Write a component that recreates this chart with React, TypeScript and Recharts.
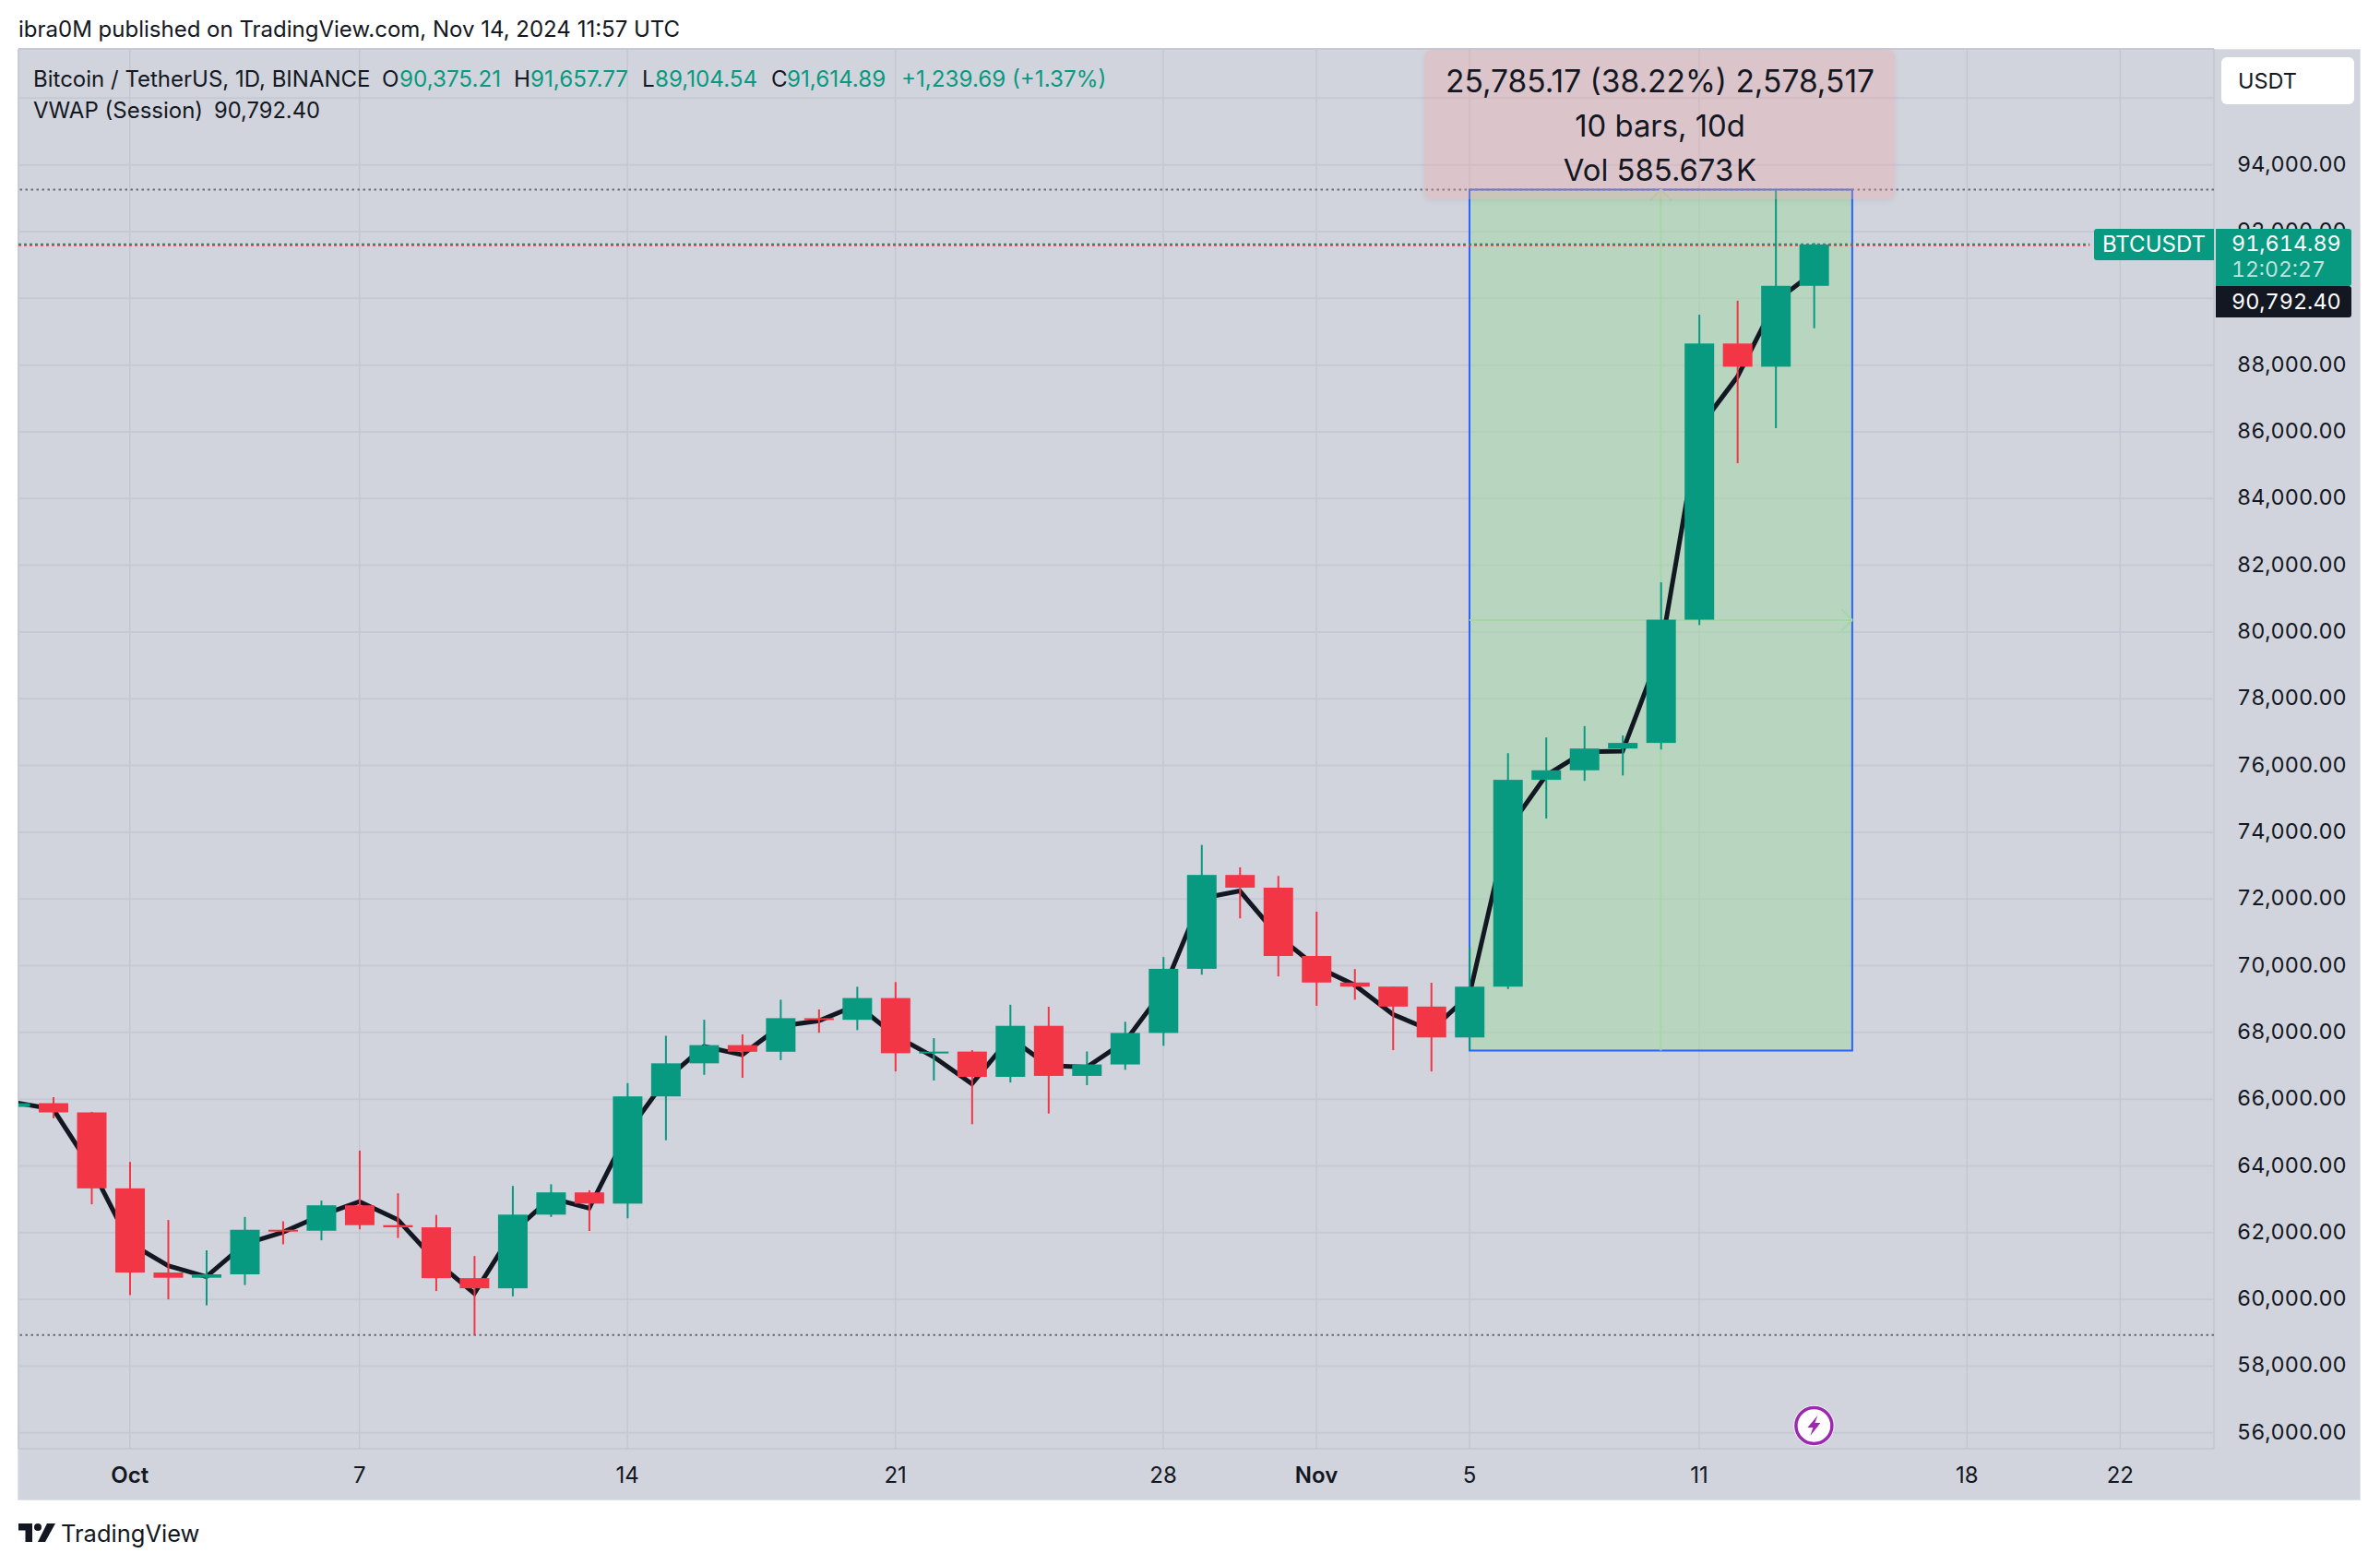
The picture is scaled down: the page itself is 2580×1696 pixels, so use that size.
import {
  Bar,
  CartesianGrid,
  ComposedChart,
  Line,
  ReferenceArea,
  ReferenceDot,
  ReferenceLine,
  XAxis,
  YAxis,
} from 'recharts';

const FONT = 'Inter, sans-serif';
const GREEN = '#089981';
const RED = '#F23645';
const INK = '#131722';

// days counted from Oct 1 2024
const days = [
  -3, -2, -1, 0, 1, 2, 3, 4, 5, 6, 7, 8, 9, 10, 11, 12, 13, 14, 15, 16, 17, 18, 19, 20, 21, 22, 23, 24,
  25, 26, 27, 28, 29, 30, 31, 32, 33, 34, 35, 36, 37, 38, 39, 40, 41, 42, 43, 44,
];
const opens = [
  65769, 65880, 65604, 63327, 60805, 60649, 60751, 62086, 62058, 62819, 62224, 62160, 60636, 60332, 62540,
  63206, 62870, 66083, 67074, 67620, 67421, 68428, 68378, 69031, 67377, 67426, 66668, 68198, 66698, 67041,
  67985, 69907, 72720, 72339, 70292, 69496, 69374, 68775, 67850, 69372, 75571, 75857, 76509, 76677, 80370,
  88647, 87952, 90375,
];
const highs = [
  66260, 66060, 65620, 64120, 62380, 61470, 62470, 62340, 62960, 64460, 63180, 62530, 61300, 63400, 63450,
  63270, 66480, 67900, 68380, 67940, 68980, 68690, 69370, 69510, 67830, 67470, 68830, 68770, 67430, 68320,
  70260, 73620, 72950, 72690, 71620, 69900, 69370, 69490, 70560, 76370, 76840, 77180, 76900, 81490, 89510,
  89930, 93257, 91658,
];
const lows = [
  65420, 65425, 62850, 60130, 60000, 59820, 60430, 61650, 61770, 62100, 61840, 60250, 58930, 60090, 62470,
  62050, 62430, 64770, 66730, 66640, 67170, 67990, 68070, 66830, 66560, 65250, 66500, 65570, 66420, 66880,
  67600, 69730, 71420, 69680, 68800, 68980, 67470, 66830, 67460, 69300, 74410, 75540, 75700, 76480, 80210,
  85060, 86110, 89105,
];
const closes = [
  65880, 65604, 63327, 60805, 60649, 60751, 62086, 62058, 62819, 62224, 62160, 60636, 60332, 62540, 63206,
  62870, 66083, 67074, 67620, 67421, 68428, 68378, 69031, 67377, 67426, 66668, 68198, 66698, 67041, 67985,
  69907, 72720, 72339, 70292, 69496, 69374, 68775, 67850, 69372, 75571, 75857, 76509, 76677, 80370, 88647,
  87952, 90375, 91615,
];
const vwap = [
  65900, 65700, 63930, 61685, 61010, 60680, 61660, 62015, 62520, 62930, 62390, 61140, 60180, 62010, 63040,
  62730, 65000, 66580, 67580, 67330, 68190, 68350, 68820, 67900, 67270, 66460, 67840, 67010, 66960, 67730,
  69260, 72020, 72240, 70890, 69970, 69420, 68540, 68060, 69130, 74080, 75700, 76410, 76430, 79450, 86120,
  87650, 89910, 90792,
];

const dayTicks = [0, 6, 13, 20, 27, 31, 35, 41, 48, 52];
const dayLabels = ['Oct', '7', '14', '21', '28', 'Nov', '5', '11', '18', '22'];
const priceTicks = [
  56000, 58000, 60000, 62000, 64000, 66000, 68000, 70000, 72000, 74000, 76000, 78000, 80000, 82000, 84000,
  86000, 88000, 90000, 92000, 94000, 96000,
];
// these labels are completely covered by the USDT button and the price tags
const coveredTicks = [90000, 96000];

const rows = days.map((day, i) => ({
  day,
  open: opens[i],
  high: highs[i],
  low: lows[i],
  close: closes[i],
  vwap: vwap[i],
}));

const Candle = (props: any) => {
  const { x, y, width, height, payload } = props;
  const pxPerPrice = height / (payload.high - payload.low);
  const toY = (price: number) => y + (payload.high - price) * pxPerPrice;
  const color = payload.close >= payload.open ? GREEN : RED;
  const top = toY(Math.max(payload.open, payload.close));
  const bottom = toY(Math.min(payload.open, payload.close));
  return (
    <g>
      <rect x={x + width / 2 - 1} y={y} width={2} height={height} fill={color} />
      <rect x={x} y={top} width={width} height={Math.max(bottom - top, 2)} fill={color} />
    </g>
  );
};

const DayTick = (props: any) => {
  const { x, y, payload } = props;
  const label = dayLabels[dayTicks.indexOf(payload.value)];
  const isMonth = label === 'Oct' || label === 'Nov';
  return (
    <text x={x} y={y} textAnchor="middle" fontFamily={FONT} fontSize={24} fontWeight={isMonth ? 600 : 400} fill={INK}>
      {label}
    </text>
  );
};

const PriceTick = (props: any) => {
  const { x, y, payload } = props;
  if (coveredTicks.includes(payload.value)) return <g />;
  return (
    <text
      x={x}
      y={y - 1.5}
      dominantBaseline="central"
      fontFamily={FONT}
      fontSize={23.4}
      fill={INK}
      style={{ fontVariantNumeric: 'tabular-nums' }}
    >
      {payload.value.toLocaleString('en-US', { minimumFractionDigits: 2 })}
    </text>
  );
};

const Bolt = (props: any) => {
  const { cx, cy } = props;
  return (
    <g>
      <circle cx={cx} cy={cy} r={22} fill="#ffffff" />
      <circle cx={cx} cy={cy} r={19.5} fill="#ffffff" stroke="#9C27B0" strokeWidth={3.5} />
      <path
        d={`M${cx + 4} ${cy - 11}L${cx - 7} ${cy + 2}L${cx - 1} ${cy + 2}L${cx - 4} ${cy + 11}L${cx + 7} ${cy - 3}L${cx + 1} ${cy - 3}Z`}
        fill="#9C27B0"
      />
    </g>
  );
};

const put = (left: number, top: number, size: number, color: string, text: string, extra: any = {}) => (
  <div
    style={{
      position: 'absolute',
      left,
      top,
      fontFamily: FONT,
      fontSize: size,
      lineHeight: 1,
      color,
      whiteSpace: 'pre',
      ...extra,
    }}
  >
    {text}
  </div>
);

const tabular = { fontVariantNumeric: 'tabular-nums' };
const arrow = '#A5D6A7';

export default function App() {
  return (
    <div style={{ position: 'absolute', left: 0, top: 0, width: 2580, height: 1696, background: '#ffffff', overflow: 'hidden' }}>
      <div
        style={{
          position: 'absolute',
          left: 19,
          top: 53,
          width: 2540,
          height: 1573,
          background: '#D1D4DC',
          border: '1px solid #E0E3EB',
          boxSizing: 'border-box',
        }}
      />
      <div style={{ position: 'absolute', left: 0, top: 0 }}>
        <ComposedChart
          width={2580}
          height={1696}
          data={rows}
          margin={{ top: 53, right: 0, bottom: 70, left: 20 }}
        >
          <CartesianGrid horizontal vertical={false} stroke="#C6C9D3" strokeWidth={2} />
          <CartesianGrid horizontal={false} vertical stroke="#C4C7D1" strokeWidth={1.5} />
          <XAxis
            dataKey="day"
            type="number"
            domain={[-2.91, 54.45]}
            allowDataOverflow
            ticks={dayTicks}
            interval={0}
            axisLine={false}
            tickLine={false}
            height={56}
            tick={<DayTick />}
            tickMargin={31}
          />
          <YAxis
            type="number"
            orientation="right"
            domain={[55524, 97476]}
            allowDataOverflow
            ticks={priceTicks}
            interval={0}
            width={180}
            axisLine={false}
            tickLine={false}
            tickMargin={19}
            tick={<PriceTick />}
          />
          <ReferenceArea
            x1={35}
            x2={45}
            y1={67460}
            y2={93257}
            fill="#9FD8A2"
            fillOpacity={0.5}
            stroke="#2962FF"
            strokeWidth={2}
          />
          <ReferenceLine y={93257} stroke="#6A6D78" strokeWidth={2} strokeDasharray="2.5 3.5" zIndex={150} />
          <ReferenceLine y={58930} stroke="#6A6D78" strokeWidth={2} strokeDasharray="2.5 3.5" zIndex={150} />
          <ReferenceLine
            segment={[{ x: -2.91, y: 91630 }, { x: 51.2, y: 91630 }]}
            stroke={GREEN}
            strokeWidth={1.2}
            strokeDasharray="3 3"
            zIndex={150}
          />
          <ReferenceLine
            segment={[{ x: -2.91, y: 91590 }, { x: 51.2, y: 91590 }]}
            stroke={RED}
            strokeWidth={2}
            strokeDasharray="3 3"
            zIndex={150}
          />
          <ReferenceLine segment={[{ x: 35, y: 80360 }, { x: 45, y: 80360 }]} stroke={arrow} strokeWidth={2} zIndex={150} />
          <ReferenceLine segment={[{ x: 44.725, y: 80675 }, { x: 45, y: 80360 }]} stroke={arrow} strokeWidth={2} zIndex={150} />
          <ReferenceLine segment={[{ x: 44.725, y: 80045 }, { x: 45, y: 80360 }]} stroke={arrow} strokeWidth={2} zIndex={150} />
          <ReferenceLine segment={[{ x: 40, y: 67460 }, { x: 40, y: 93257 }]} stroke={arrow} strokeWidth={2} zIndex={150} />
          <ReferenceLine segment={[{ x: 39.725, y: 92942 }, { x: 40, y: 93257 }]} stroke={arrow} strokeWidth={2} zIndex={150} />
          <ReferenceLine segment={[{ x: 40.275, y: 92942 }, { x: 40, y: 93257 }]} stroke={arrow} strokeWidth={2} zIndex={150} />
          <Line
            dataKey="vwap"
            type="linear"
            stroke={INK}
            strokeWidth={5}
            dot={false}
            activeDot={false}
            isAnimationActive={false}
            zIndex={200}
          />
          <Bar
            dataKey={(row: any) => [row.low, row.high]}
            barSize={32}
            shape={<Candle />}
            isAnimationActive={false}
          />
          <ReferenceDot x={44} y={56215} r={22} shape={<Bolt />} />
        </ComposedChart>
      </div>

      {put(20, 20, 24, INK, 'ibra0M published on TradingView.com, Nov 14, 2024 11:57 UTC')}

      {put(36, 74, 24, INK, 'Bitcoin / TetherUS, 1D, BINANCE')}
      {put(414, 74, 24.2, INK, 'O')}
      {put(433, 74, 24.2, GREEN, '90,375.21')}
      {put(557, 74, 24.2, INK, 'H')}
      {put(575, 74, 24.2, GREEN, '91,657.77')}
      {put(696, 74, 24.2, INK, 'L')}
      {put(710, 74, 24.2, GREEN, '89,104.54')}
      {put(836, 74, 24.2, INK, 'C')}
      {put(853, 74, 24.2, GREEN, '91,614.89')}
      {put(977, 74, 24.2, GREEN, '+1,239.69 (+1.37%)')}
      {put(36, 108, 24, INK, 'VWAP (Session)')}
      {put(232, 108, 23.7, INK, '90,792.40')}

      <div
        style={{
          position: 'absolute',
          left: 1544,
          top: 54,
          width: 510,
          height: 162,
          background: 'rgba(242,162,167,0.3)',
          borderRadius: 8,
          boxShadow: '0 2px 6px rgba(0,0,0,0.06)',
        }}
      />
      {put(1545, 72, 33.5, INK, '25,785.17 (38.22%) 2,578,517', { width: 509, textAlign: 'center' })}
      {put(1545, 120, 32.8, INK, '10 bars, 10d', { width: 509, textAlign: 'center' })}
      {put(1545, 168, 32.8, INK, 'Vol 585.673\u200AK', { width: 509, textAlign: 'center' })}

      <div style={{ position: 'absolute', left: 2408, top: 62, width: 144, height: 51, background: '#ffffff', borderRadius: 6 }} />
      {put(2426, 76, 23.5, INK, 'USDT')}

      <div style={{ position: 'absolute', left: 2270, top: 248, width: 130, height: 34, background: GREEN, borderRadius: '3px 0 0 3px' }} />
      {put(2279, 253, 24, '#ffffff', 'BTCUSDT')}
      <div style={{ position: 'absolute', left: 2402, top: 248, width: 147, height: 62, background: GREEN, borderRadius: '0 3px 3px 0' }} />
      {put(2419, 252, 23.4, '#ffffff', '91,614.89', tabular)}
      {put(2419, 281, 23, '#BFE3DC', '12:02:27', tabular)}
      <div style={{ position: 'absolute', left: 2402, top: 310, width: 147, height: 34, background: INK, borderRadius: '0 3px 3px 0' }} />
      {put(2419, 315, 23.4, '#ffffff', '90,792.40', tabular)}

      <svg style={{ position: 'absolute', left: 20, top: 1651 }} width={40} height={20} viewBox="0 0 40 20">
        <path d="M15 20H7.5V7.5H0V0h15z" fill={INK} />
        <circle cx={21} cy={4} r={4} fill={INK} />
        <path d="M29 20h-8L31 0h9z" fill={INK} />
      </svg>
      {put(66, 1649, 25.5, INK, 'TradingView')}
    </div>
  );
}
